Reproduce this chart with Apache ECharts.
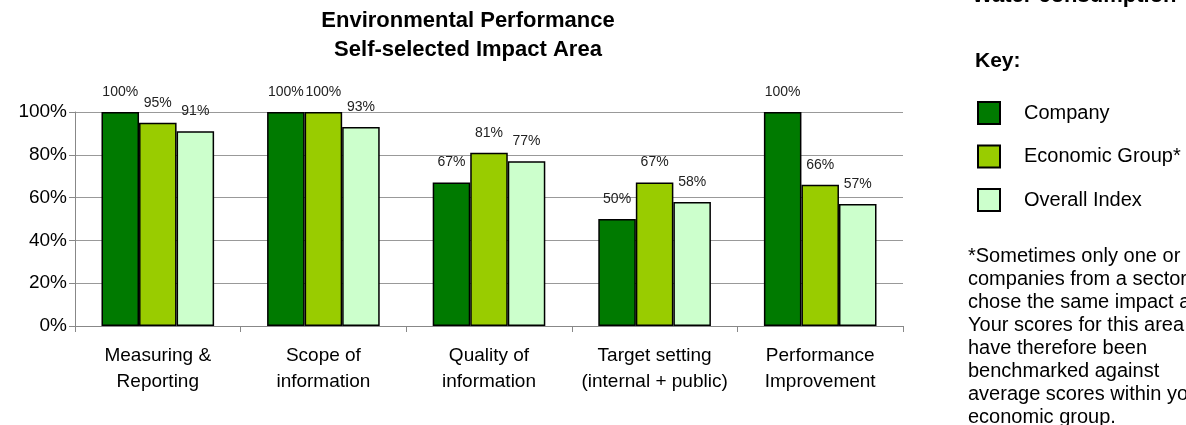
<!DOCTYPE html>
<html>
<head>
<meta charset="utf-8">
<script src="https://cdn.jsdelivr.net/npm/echarts@6/dist/echarts.min.js"></script>
<style>
  html, body { margin: 0; padding: 0; background: #fff; }
  #chart { width: 1186px; height: 425px; }
</style>
</head>
<body>
<div id="chart"></div>
<script>
// categories and series values (percent)
var categories = ['Measuring &\nReporting', 'Scope of\ninformation', 'Quality of\ninformation', 'Target setting\n(internal + public)', 'Performance\nImprovement'];
var company = [100, 100, 67, 50, 100];
var economicGroup = [95, 100, 81, 67, 66];
var overallIndex = [91, 93, 77, 58, 57];
var seriesNames = ['Company', 'Economic Group*', 'Overall Index'];
var footnote = [
  '*Sometimes only one or two',
  'companies from a sector',
  'chose the same impact area.',
  'Your scores for this area',
  'have therefore been',
  'benchmarked against',
  'average scores within your',
  'economic group.'
];

var font = 'Arial, "Liberation Sans", sans-serif';
var colors = ['#007A00', '#99CC00', '#CCFFCC'];

function barSeries(name, data, color) {
  return {
    name: name,
    type: 'bar',
    data: data,
    barGap: '0%',
    barCategoryGap: '32%',
    itemStyle: { color: color, borderColor: '#000', borderWidth: 1.5 },
    label: {
      show: true,
      position: 'top',
      distance: 13,
      formatter: '{c}%',
      fontFamily: font,
      fontSize: 14,
      color: '#222'
    }
  };
}

var chart = echarts.init(document.getElementById('chart'));
chart.setOption({
  animation: false,
  backgroundColor: '#fff',
  title: {
    text: 'Environmental Performance\nSelf-selected Impact Area',
    left: 463,
    top: 1,
    textAlign: 'center',
    textStyle: { fontFamily: font, fontSize: 22, fontWeight: 'bold', color: '#000', lineHeight: 29 }
  },
  legend: {
    orient: 'vertical',
    left: 972,
    top: 96,
    itemWidth: 22,
    itemHeight: 22,
    itemGap: 19.5,
    icon: 'rect',
    data: seriesNames,
    textStyle: { fontFamily: font, fontSize: 20, color: '#000', padding: [0, 0, 0, 19] }
  },
  grid: { left: 75, right: 283, top: 112, bottom: 99 },
  xAxis: {
    type: 'category',
    data: categories,
    axisLine: { lineStyle: { color: '#888', width: 1 } },
    axisTick: { show: true, length: 6, lineStyle: { color: '#888' } },
    axisLabel: { interval: 0, fontFamily: font, fontSize: 19, color: '#000', lineHeight: 26, margin: 17 }
  },
  yAxis: {
    type: 'value',
    min: 0,
    max: 100,
    interval: 20,
    axisLine: { show: true, lineStyle: { color: '#888' } },
    axisTick: { show: true, length: 6, lineStyle: { color: '#888' } },
    axisLabel: { formatter: '{value}%', fontFamily: font, fontSize: 19, color: '#000', margin: 8 },
    splitLine: { lineStyle: { color: '#999', width: 1 } }
  },
  series: [
    barSeries(seriesNames[0], company, colors[0]),
    barSeries(seriesNames[1], economicGroup, colors[1]),
    barSeries(seriesNames[2], overallIndex, colors[2])
  ],
  graphic: [
    {
      type: 'text', left: 972, top: -15,
      style: { text: 'Water consumption', font: 'bold 22px ' + font, fill: '#000' }
    },
    {
      type: 'text', left: 975, top: 51,
      style: { text: 'Key:', font: 'bold 21px ' + font, fill: '#000' }
    },
    {
      type: 'text', left: 968, top: 245,
      style: { text: footnote.join('\n'), font: '20px ' + font, fill: '#000', lineHeight: 23 }
    }
  ]
});
</script>
</body>
</html>
